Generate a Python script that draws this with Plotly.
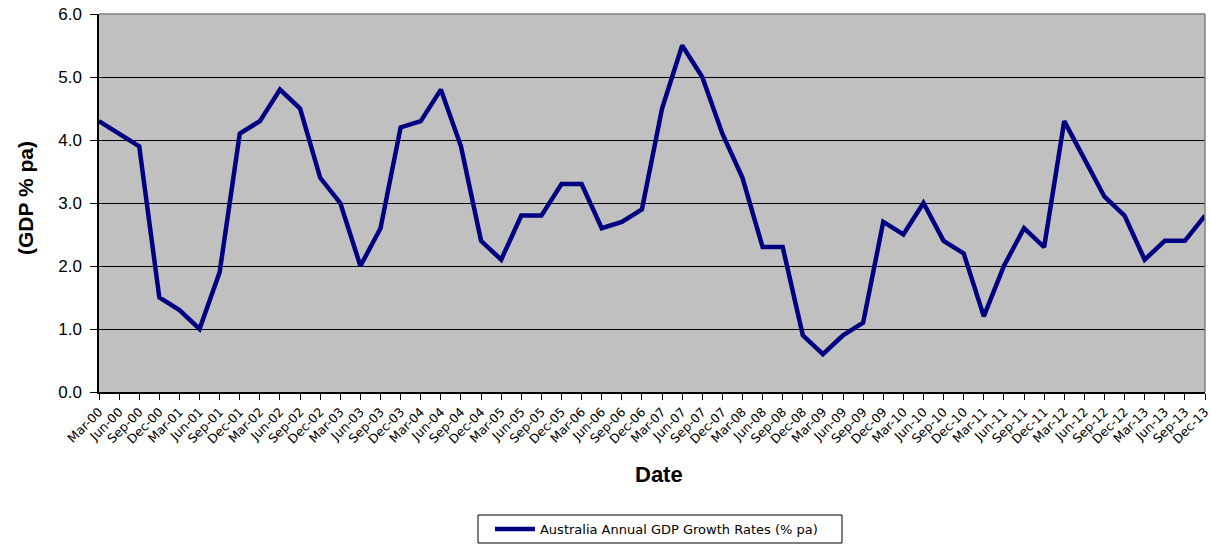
import plotly.graph_objects as go

quarters = ["Mar", "Jun", "Sep", "Dec"]
years = [f"{y:02d}" for y in range(0, 14)]
dates = [f"{q}-{y}" for y in years for q in quarters]

gdp_growth = [
    4.3, 4.1, 3.9, 1.5, 1.3, 1.0, 1.9, 4.1, 4.3, 4.8, 4.5, 3.4, 3.0, 2.0,
    2.6, 4.2, 4.3, 4.8, 3.9, 2.4, 2.1, 2.8, 2.8, 3.3, 3.3, 2.6, 2.7, 2.9,
    4.5, 5.5, 5.0, 4.1, 3.4, 2.3, 2.3, 0.9, 0.6, 0.9, 1.1, 2.7, 2.5, 3.0,
    2.4, 2.2, 1.2, 2.0, 2.6, 2.3, 4.3, 3.7, 3.1, 2.8, 2.1, 2.4, 2.4, 2.8,
]
series_name = "Australia Annual GDP Growth Rates (% pa)"
y_ticks = [0, 1, 2, 3, 4, 5, 6]

fig = go.Figure()
fig.add_trace(go.Scatter(
    x=dates, y=gdp_growth, mode="lines", name=series_name,
    line=dict(color="#000080", width=4.5),
))

fig.update_layout(
    width=1211, height=546,
    margin=dict(l=99, r=6, t=14, b=154, autoexpand=False),
    paper_bgcolor="white", plot_bgcolor="#C0C0C0",
    showlegend=True,
    legend=dict(
        orientation="h", xref="container", yref="container",
        x=0.4046, xanchor="left", y=1 - 529 / 546, yanchor="middle",
        bgcolor="rgba(0,0,0,0)", borderwidth=0, itemwidth=40,
        font=dict(family="DejaVu Sans", size=13, color="black"),
    ),
    font=dict(family="Liberation Sans, Arial", color="black"),
)

fig.update_xaxes(
    type="category", range=[0, len(dates) - 1],
    tickmode="array", tickvals=dates, ticktext=dates,
    tickangle=-45, tickfont=dict(family="DejaVu Sans", size=12.5, color="black"),
    ticks="outside", ticklen=6, tickcolor="black",
    showline=True, linecolor="black", linewidth=1.5,
    showgrid=False, zeroline=False, automargin=False,
)
fig.update_yaxes(
    range=[0, 6], tickvals=y_ticks, tickformat=".1f",
    tickfont=dict(family="Liberation Sans, Arial", size=17, color="black"),
    ticks="outside", ticklen=7, tickcolor="black", ticklabelstandoff=5,
    showline=True, linecolor="black", linewidth=1.5,
    showgrid=True, gridcolor="black", gridwidth=1, zeroline=False, automargin=False,
)

# plot-area border (top and right)
fig.add_shape(type="line", xref="paper", yref="paper", x0=0, x1=1, y0=1, y1=1,
              line=dict(color="#808080", width=1.5), layer="above")
fig.add_shape(type="line", xref="paper", yref="paper", x0=1, x1=1, y0=0, y1=1,
              line=dict(color="#808080", width=1.5), layer="above")
# legend frame
fig.add_shape(type="rect", xref="paper", yref="paper",
              x0=(478 - 99) / 1106, x1=(842 - 99) / 1106,
              y0=(392 - 543) / 378, y1=(392 - 515) / 378,
              line=dict(color="black", width=1), fillcolor="white", layer="below")

fig.add_annotation(text="<b>Date</b>", xref="paper", yref="paper",
                   x=(659 - 99) / 1106, y=(392 - 474) / 378, xanchor="center", yanchor="middle",
                   showarrow=False, font=dict(family="Liberation Sans, Arial", size=22, color="black"))
fig.add_annotation(text="<b>(GDP % pa)</b>", xref="paper", yref="paper",
                   x=(25 - 99) / 1106, y=(392 - 198) / 378, xanchor="center", yanchor="middle",
                   textangle=-90, showarrow=False,
                   font=dict(family="Liberation Sans, Arial", size=21, color="black"))

fig.write_html("out.html", config={"displayModeBar": False},
               post_script="document.body.style.margin='0';")
